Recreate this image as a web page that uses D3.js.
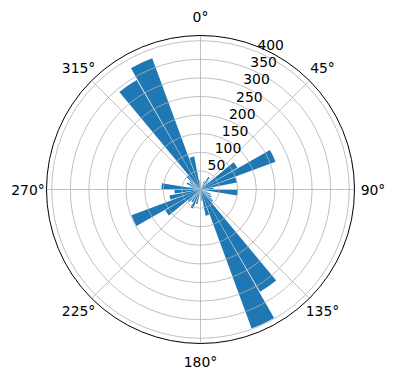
<!DOCTYPE html>
<html>
<head>
<meta charset="utf-8">
<script src="https://cdn.jsdelivr.net/npm/d3@7"></script>
<style>
  html, body { margin: 0; padding: 0; background: #fff; }
  svg { display: block; }
  text { font-family: "DejaVu Sans", sans-serif; font-size: 13.9px; fill: #000; }
</style>
</head>
<body>
<svg id="chart" width="396" height="380"></svg>
<script>
// Bin centres (degrees, clockwise from north) and counts per bin
const directions = [5, 15, 25, 35, 45, 55, 65, 75, 85, 95, 105, 115,
                    125, 135, 145, 155, 165, 175, 185, 195, 205, 215, 225, 235,
                    245, 255, 265, 275, 285, 295, 305, 315, 325, 335, 345, 355];
const counts = [20, 15, 25, 40, 30, 115, 215, 100, 35, 100, 20, 30,
                35, 45, 318, 398, 72, 30, 20, 40, 55, 40, 45, 110,
                198, 85, 70, 105, 30, 40, 35, 50, 341, 376, 90, 25];
const binWidth = 10;
const radialTicks = [50, 100, 150, 200, 250, 300, 350, 400];
const angleTicks = [0, 45, 90, 135, 180, 225, 270, 315];
const rMax = 414;

const cx = 200.5, cy = 189.5, R = 154;
const svg = d3.select("#chart");
const g = svg.append("g").attr("transform", `translate(${cx},${cy})`);

const r = d3.scaleLinear().domain([0, rMax]).range([0, R]);
const a = d3.scaleLinear().domain([0, 360]).range([0, 2 * Math.PI]);

// bars
const arc = d3.arc()
  .innerRadius(0)
  .outerRadius(d => r(d.v))
  .startAngle(d => a(d.dir - binWidth / 2))
  .endAngle(d => a(d.dir + binWidth / 2))
  .padAngle(0.012)
  .padRadius(80);

g.selectAll("path.bar")
  .data(directions.map((dir, i) => ({dir, v: counts[i]})))
  .join("path")
  .attr("class", "bar")
  .attr("d", arc)
  .attr("fill", "#1f77b4");

// grid circles
g.selectAll("circle.grid")
  .data(radialTicks)
  .join("circle")
  .attr("class", "grid")
  .attr("r", d => r(d))
  .attr("fill", "none")
  .attr("stroke", "#b0b0b0")
  .attr("stroke-width", 0.8);

// radial grid lines
g.selectAll("line.spoke")
  .data(angleTicks)
  .join("line")
  .attr("class", "spoke")
  .attr("x1", 0).attr("y1", 0)
  .attr("x2", d => R * Math.sin(a(d)))
  .attr("y2", d => -R * Math.cos(a(d)))
  .attr("stroke", "#b0b0b0")
  .attr("stroke-width", 0.8);

// outer frame
g.append("circle")
  .attr("r", R)
  .attr("fill", "none")
  .attr("stroke", "#000")
  .attr("stroke-width", 1);

// radial tick labels at 22.5 deg
const labelAngle = a(22.5);
g.selectAll("text.rlabel")
  .data(radialTicks)
  .join("text")
  .attr("class", "rlabel")
  .attr("x", d => r(d) * Math.sin(labelAngle))
  .attr("y", d => -r(d) * Math.cos(labelAngle) - 2)
  .attr("text-anchor", "start")
  .text(d => d);

// angle labels
const labelR = R + 18.5;
g.selectAll("text.alabel")
  .data(angleTicks)
  .join("text")
  .attr("class", "alabel")
  .attr("x", d => labelR * Math.sin(a(d)))
  .attr("y", d => -labelR * Math.cos(a(d)))
  .attr("text-anchor", "middle")
  .attr("dominant-baseline", "central")
  .text(d => d + "°");
</script>
</body>
</html>
